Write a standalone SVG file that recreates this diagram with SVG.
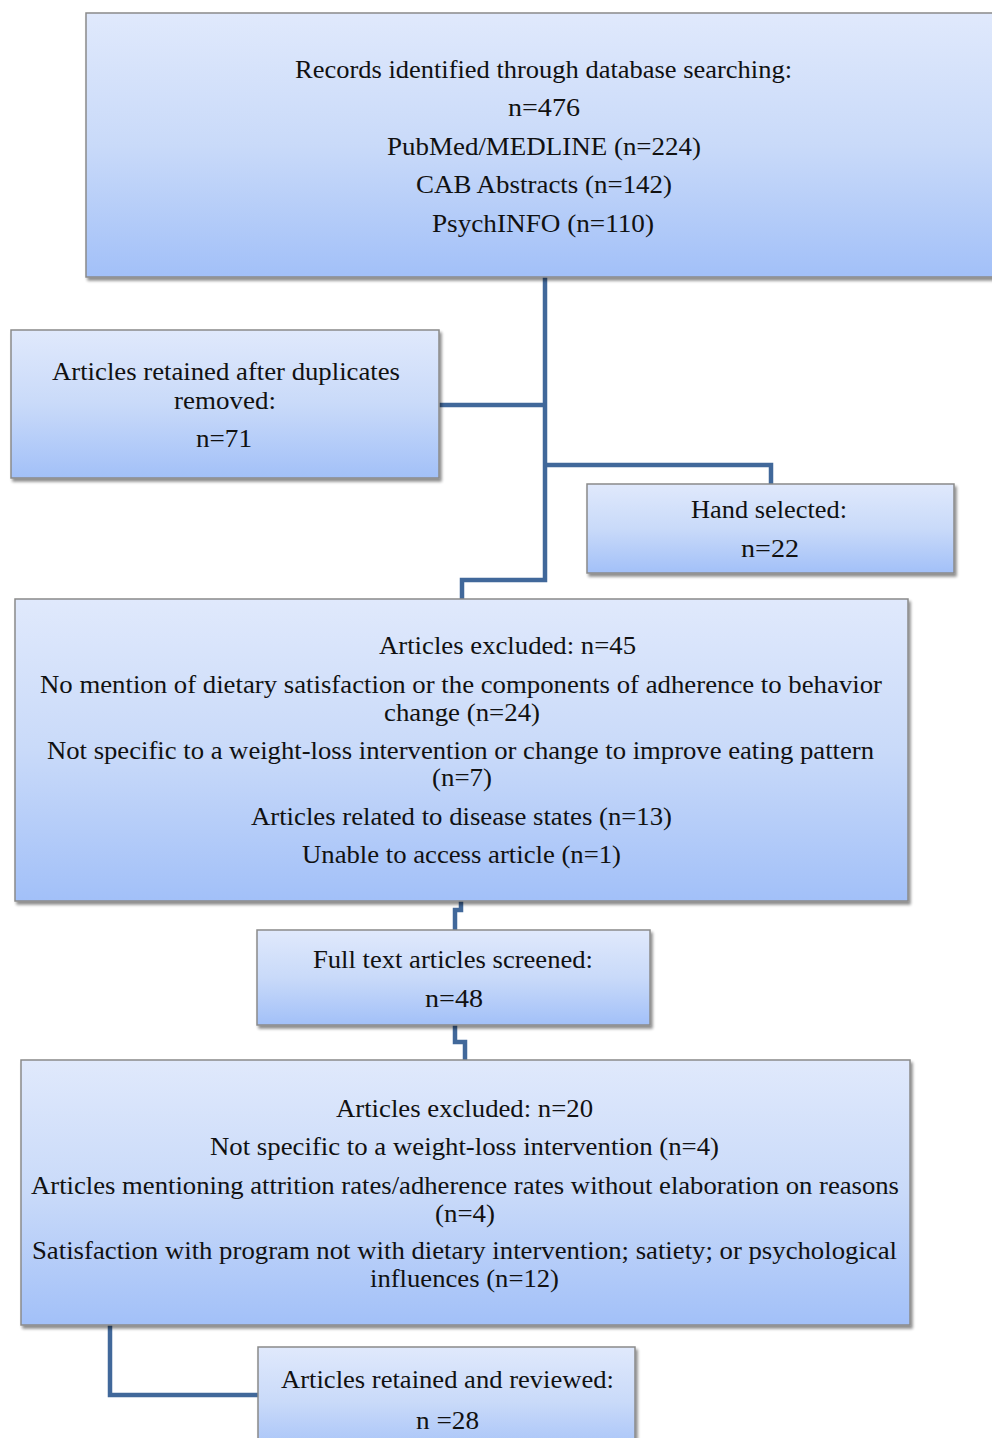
<svg xmlns="http://www.w3.org/2000/svg" width="992" height="1438" viewBox="0 0 992 1438">
<style>
.box{fill:url(#g);stroke:#8a8a8a;stroke-width:1.5;filter:url(#sh)}
.t{font-family:"Liberation Serif","Times New Roman",serif;font-size:25px;fill:#111;text-anchor:middle}
.c{fill:none;stroke:#41689a;stroke-width:4.5;stroke-linejoin:miter}
</style>
<defs>
<linearGradient id="g" x1="0" y1="0" x2="0" y2="1">
<stop offset="0" stop-color="#e0e9fc"/>
<stop offset="0.5" stop-color="#c9daf9"/>
<stop offset="1" stop-color="#a2c0f8"/>
</linearGradient>
<filter id="sh" x="-5%" y="-5%" width="110%" height="115%">
<feGaussianBlur in="SourceAlpha" stdDeviation="1.5"/>
<feOffset dx="2" dy="3" result="b"/>
<feComponentTransfer><feFuncA type="linear" slope="0.45"/></feComponentTransfer>
<feMerge><feMergeNode/><feMergeNode in="SourceGraphic"/></feMerge>
</filter>
</defs>
<rect width="992" height="1438" fill="#fff"/>
<g id="connectors">
<path class="c" d="M545 277 V580 H462 V599"/>
<path class="c" d="M439 405 H545"/>
<path class="c" d="M545 465 H771 V484"/>
<path class="c" d="M461 901 V910 H455 V930"/>
<path class="c" d="M455 1025 V1042 H465 V1060"/>
<path class="c" d="M110 1325 V1395 H258"/>
</g>
<g id="records">
<rect class="box" x="86" y="13" width="920" height="264"/>
<text class="t" x="543.5" y="78" textLength="497" lengthAdjust="spacingAndGlyphs">Records identified through database searching:</text>
<text class="t" x="544" y="116" textLength="72" lengthAdjust="spacingAndGlyphs">n=476</text>
<text class="t" x="544" y="155" textLength="314" lengthAdjust="spacingAndGlyphs">PubMed/MEDLINE (n=224)</text>
<text class="t" x="544" y="193" textLength="256" lengthAdjust="spacingAndGlyphs">CAB Abstracts (n=142)</text>
<text class="t" x="543" y="232" textLength="222" lengthAdjust="spacingAndGlyphs">PsychINFO (n=110)</text>
</g>
<g id="duplicates">
<rect class="box" x="11" y="330" width="428" height="148"/>
<text class="t" x="226" y="380" textLength="348" lengthAdjust="spacingAndGlyphs">Articles retained after duplicates</text>
<text class="t" x="225" y="409" textLength="102" lengthAdjust="spacingAndGlyphs">removed:</text>
<text class="t" x="224" y="447" textLength="56" lengthAdjust="spacingAndGlyphs">n=71</text>
</g>
<g id="hand">
<rect class="box" x="587" y="484" width="367" height="89"/>
<text class="t" x="769" y="518" textLength="156" lengthAdjust="spacingAndGlyphs">Hand selected:</text>
<text class="t" x="770" y="557" textLength="58" lengthAdjust="spacingAndGlyphs">n=22</text>
</g>
<g id="excluded1">
<rect class="box" x="15" y="599" width="893" height="302"/>
<text class="t" x="507.5" y="654" textLength="257" lengthAdjust="spacingAndGlyphs">Articles excluded: n=45</text>
<text class="t" x="461" y="693" textLength="842" lengthAdjust="spacingAndGlyphs">No mention of dietary satisfaction or the components of adherence to behavior</text>
<text class="t" x="462" y="721" textLength="156" lengthAdjust="spacingAndGlyphs">change (n=24)</text>
<text class="t" x="460.5" y="759" textLength="827" lengthAdjust="spacingAndGlyphs">Not specific to a weight-loss intervention or change to improve eating pattern</text>
<text class="t" x="462" y="786" textLength="60" lengthAdjust="spacingAndGlyphs">(n=7)</text>
<text class="t" x="461.5" y="825" textLength="421" lengthAdjust="spacingAndGlyphs">Articles related to disease states (n=13)</text>
<text class="t" x="461.5" y="863" textLength="319" lengthAdjust="spacingAndGlyphs">Unable to access article (n=1)</text>
</g>
<g id="fulltext">
<rect class="box" x="257" y="930" width="393" height="95"/>
<text class="t" x="453" y="968" textLength="280" lengthAdjust="spacingAndGlyphs">Full text articles screened:</text>
<text class="t" x="454" y="1007" textLength="58" lengthAdjust="spacingAndGlyphs">n=48</text>
</g>
<g id="excluded2">
<rect class="box" x="21" y="1060" width="889" height="265"/>
<text class="t" x="464.5" y="1117" textLength="257" lengthAdjust="spacingAndGlyphs">Articles excluded: n=20</text>
<text class="t" x="464.5" y="1155" textLength="509" lengthAdjust="spacingAndGlyphs">Not specific to a weight-loss intervention (n=4)</text>
<text class="t" x="465" y="1194" textLength="868" lengthAdjust="spacingAndGlyphs">Articles mentioning attrition rates/adherence rates without elaboration on reasons</text>
<text class="t" x="465" y="1222" textLength="60" lengthAdjust="spacingAndGlyphs">(n=4)</text>
<text class="t" x="464.5" y="1259" textLength="865" lengthAdjust="spacingAndGlyphs">Satisfaction with program not with dietary intervention; satiety; or psychological</text>
<text class="t" x="464.5" y="1287" textLength="189" lengthAdjust="spacingAndGlyphs">influences (n=12)</text>
</g>
<g id="retained">
<rect class="box" x="258" y="1347" width="377" height="110"/>
<text class="t" x="447.5" y="1388" textLength="333" lengthAdjust="spacingAndGlyphs">Articles retained and reviewed:</text>
<text class="t" x="447.5" y="1429" textLength="63" lengthAdjust="spacingAndGlyphs">n =28</text>
</g>
</svg>
